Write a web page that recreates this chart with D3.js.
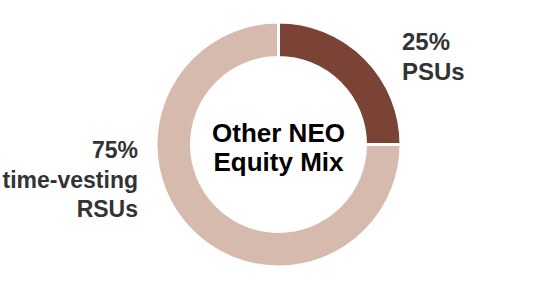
<!DOCTYPE html>
<html><head><meta charset="utf-8">
<script src="https://cdn.jsdelivr.net/npm/d3@7"></script>
<style>html,body{margin:0;padding:0;background:#fff;}</style>
</head><body>
<svg id="c" width="556" height="288"></svg>
<script>
const categories = ["PSUs", "time-vesting RSUs"];
const values = [25, 75];
const pctLabels = ["25%", "75%"];
const nameLines = [["PSUs"], ["time-vesting", "RSUs"]];
const colors = ["#7a4336", "#d6baad"];
const centerLines = ["Other NEO", "Equity Mix"];

const svg = d3.select("#c");
const cx = 278.5, cy = 144.5, rOut = 122.5, rIn = 87;
const g = svg.append("g").attr("transform", `translate(${cx},${cy})`);
const pie = d3.pie().sort(null).value(d => d)(values);
const arc = d3.arc().innerRadius(rIn).outerRadius(rOut);
g.selectAll("path").data(pie).join("path")
  .attr("d", arc).attr("fill", (d, i) => colors[i])
  .attr("stroke", "#fff").attr("stroke-width", 3);

const font = "'Liberation Sans', Arial, sans-serif";
g.append("text").attr("text-anchor", "middle").attr("font-family", font)
  .attr("font-weight", "bold").attr("font-size", 26).attr("fill", "#000")
  .selectAll("tspan").data(centerLines).join("tspan")
  .attr("x", 0).attr("y", (d, i) => -3 + i * 29).text(d => d);

const lab = [
  {x: 402, y: 50, anchor: "start", size: 24},
  {x: 138, y: 158, anchor: "end", size: 23}
];
lab.forEach((p, i) => {
  const t = svg.append("text").attr("text-anchor", p.anchor).attr("font-family", font)
    .attr("font-weight", "bold").attr("font-size", p.size).attr("fill", "#333");
  const lines = [pctLabels[i]].concat(nameLines[i]);
  t.selectAll("tspan").data(lines).join("tspan")
    .attr("x", p.x).attr("y", (d, j) => p.y + j * 29.5).text(d => d);
});
</script>
</body></html>
